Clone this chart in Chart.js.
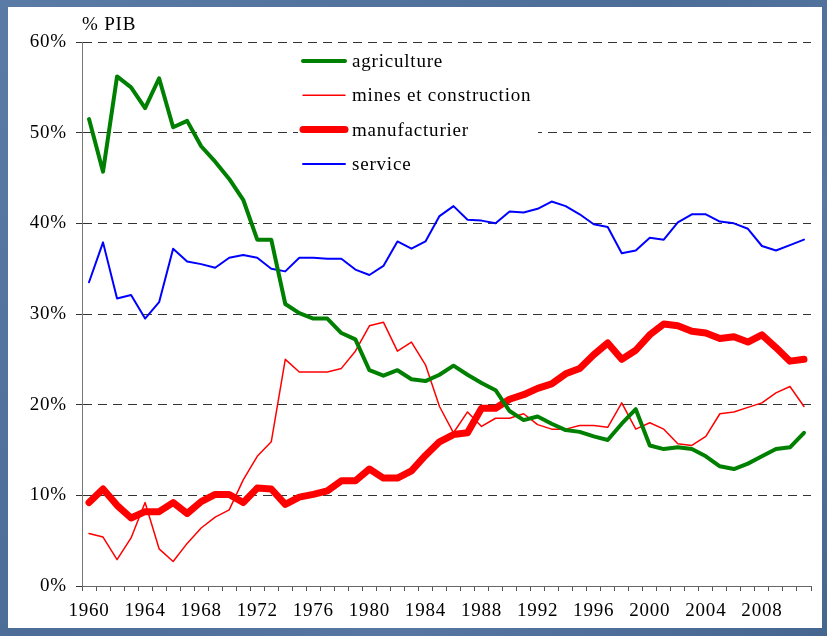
<!DOCTYPE html>
<html>
<head>
<meta charset="utf-8">
<script src="https://cdn.jsdelivr.net/npm/chart.js@4/dist/chart.umd.min.js"></script>
<style>
  html, body { margin: 0; padding: 0; }
  body {
    width: 827px; height: 636px; overflow: hidden;
    background: linear-gradient(135deg, #5a7ba5 0%, #4b6d98 45%, #5677a2 70%, #44668f 100%);
    position: relative;
  }
  #panel {
    position: absolute; left: 8px; top: 7px; width: 814px; height: 621px;
    background: #fff;
  }
</style>
</head>
<body>
<div id="panel"><canvas id="chartCanvas" width="814" height="621"></canvas></div>
<script>
const years = ["1960","1961","1962","1963","1964","1965","1966","1967","1968","1969",
  "1970","1971","1972","1973","1974","1975","1976","1977","1978","1979",
  "1980","1981","1982","1983","1984","1985","1986","1987","1988","1989",
  "1990","1991","1992","1993","1994","1995","1996","1997","1998","1999",
  "2000","2001","2002","2003","2004","2005","2006","2007","2008","2009","2010","2011"]

const tickYears = ["1960","1964","1968","1972","1976","1980","1984","1988","1992","1996","2000","2004","2008"]

const agriculture = [51.5, 45.7, 56.2, 55.0, 52.7, 56.0, 50.6, 51.3, 48.5, 46.8,
  44.9, 42.6, 38.2, 38.2, 31.1, 30.1, 29.5, 29.5, 27.9, 27.2,
  23.8, 23.2, 23.8, 22.8, 22.6, 23.3, 24.3, 23.3, 22.4, 21.6,
  19.3, 18.3, 18.7, 17.9, 17.2, 17.0, 16.5, 16.1, 17.9, 19.5,
  15.5, 15.1, 15.3, 15.1, 14.3, 13.2, 12.9, 13.5, 14.3, 15.1, 15.3, 16.9]

const mines = [5.8, 5.4, 2.9, 5.3, 9.2, 4.1, 2.7, 4.7, 6.4, 7.6,
  8.4, 11.7, 14.3, 15.9, 25.0, 23.6, 23.6, 23.6, 24.0, 25.9,
  28.7, 29.1, 25.9, 26.9, 24.4, 19.8, 16.9, 19.2, 17.6, 18.5,
  18.5, 19.0, 17.8, 17.3, 17.3, 17.7, 17.7, 17.5, 20.2, 17.3,
  18.0, 17.3, 15.7, 15.5, 16.5, 19.0, 19.2, 19.7, 20.2, 21.3, 22.0, 19.8]

const manufacturier = [9.2, 10.7, 8.9, 7.5, 8.2, 8.2, 9.2, 8.0, 9.3, 10.1,
  10.1, 9.2, 10.8, 10.7, 9.0, 9.8, 10.1, 10.5, 11.6, 11.6,
  12.9, 11.9, 11.9, 12.7, 14.4, 15.9, 16.7, 16.9, 19.6, 19.6,
  20.6, 21.1, 21.8, 22.3, 23.4, 24.0, 25.5, 26.8, 25.0, 26.0,
  27.7, 28.9, 28.7, 28.1, 27.9, 27.3, 27.5, 26.9, 27.7, 26.3, 24.8, 25.0]

const service = [33.5, 37.9, 31.7, 32.1, 29.5, 31.3, 37.2, 35.8, 35.5, 35.1,
  36.2, 36.5, 36.2, 35.0, 34.7, 36.2, 36.2, 36.1, 36.1, 34.9,
  34.3, 35.3, 38.0, 37.2, 38.0, 40.8, 41.9, 40.4, 40.3, 40.0,
  41.3, 41.2, 41.6, 42.4, 41.9, 41.0, 39.9, 39.6, 36.7, 37.0,
  38.4, 38.2, 40.1, 41.0, 41.0, 40.2, 40.0, 39.4, 37.5, 37.0, 37.6, 38.2]

const serif = "'Liberation Serif', 'DejaVu Serif', serif"

// texte un peu plus large, comme dans la diapo d'origine
const spacing = {
  id: "spacing",
  beforeDraw(chart){ chart.ctx.letterSpacing = "0.8px" }
}

// legende + titre de l'axe
const extras = {
  id: "extras",
  afterDraw(chart){
    const ctx = chart.ctx
    ctx.save()
    ctx.letterSpacing = "0.8px"
    ctx.fillStyle = "#fff"
    ctx.fillRect(290, 40, 240, 131)
    ctx.fillStyle = "#000"
    ctx.font = "19px " + serif
    ctx.textBaseline = "alphabetic"
    ctx.textAlign = "left"
    ctx.fillText("% PIB", 74, 23)

    const lx = 295, tx = 344
    let y = 54
    chart.data.datasets.forEach(ds=>{
      ctx.strokeStyle = ds.borderColor
      ctx.lineWidth = ds.borderWidth
      ctx.lineCap = "round"
      ctx.beginPath()
      ctx.moveTo(lx, y)
      ctx.lineTo(lx + 42, y)
      ctx.stroke()
      ctx.textBaseline = "middle"
      ctx.fillText(ds.label, tx, y + 1)
      y += 34.3
    })
    ctx.restore()
  }
}

const chart = new Chart(document.querySelector("#chartCanvas"), {
  type: "line",
  data: {
    labels: years,
    datasets: [
      { label: "agriculture", data: agriculture, borderColor: "#008000", borderWidth: 4 },
      { label: "mines et construction", data: mines, borderColor: "#ff0000", borderWidth: 1.5 },
      { label: "manufacturier", data: manufacturier, borderColor: "#ff0000", borderWidth: 7 },
      { label: "service", data: service, borderColor: "#0000ff", borderWidth: 2 }
    ]
  },
  options: {
    responsive: false,
    animation: false,
    devicePixelRatio: 1,
    layout: { padding: { left: 0, top: 35, right: 11, bottom: 0 } },
    elements: {
      point: { radius: 0 },
      line: { tension: 0, borderJoinStyle: "round", borderCapStyle: "round" }
    },
    plugins: { legend: { display: false }, tooltip: { enabled: false } },
    scales: {
      x: {
        offset: true,
        afterFit(scale){ scale.height = 42 },
        grid: {
          display: true, offset: true, drawOnChartArea: false, drawTicks: true,
          tickLength: 5, tickColor: "#555", tickWidth: 1
        },
        border: { display: true, color: "#666", width: 1 },
        ticks: {
          autoSkip: false, maxRotation: 0, minRotation: 0, padding: 9,
          color: "#000", font: { family: serif, size: 19 },
          callback(val){
            const y = this.getLabelForValue(val)
            return tickYears.includes(y) ? y : ""
          }
        }
      },
      y: {
        min: 0, max: 60,
        afterFit(scale){ scale.width = 74 },
        grid: {
          color: c => c.tick && c.tick.value === 0 ? "rgba(0,0,0,0)" : "#333",
          lineWidth: 1, tickLength: 6, tickColor: "#333", tickBorderDash: []
        },
        border: { display: true, color: "#777", width: 1, dash: [9, 6] },
        ticks: {
          stepSize: 10, padding: 9, color: "#000",
          font: { family: serif, size: 19 },
          callback: v => v + "%"
        }
      }
    }
  },
  plugins: [spacing, extras]
})
</script>
</body>
</html>
